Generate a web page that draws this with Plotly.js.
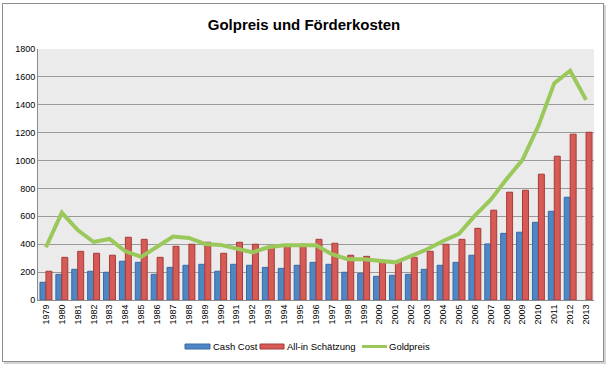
<!DOCTYPE html>
<html>
<head>
<meta charset="utf-8">
<script src="https://cdn.plot.ly/plotly-3.0.1.min.js"></script>
<style>
html,body{margin:0;padding:0;background:#fff;}
#wrap{position:relative;width:608px;height:366px;}
#chart{width:608px;height:366px;}
#frame{position:absolute;left:2px;top:3px;width:600px;height:357px;border:1px solid #8e8e8e;box-shadow:2px 2px 0 #d4d4d4;pointer-events:none;}
</style>
</head>
<body>
<div id="wrap"><div id="chart"></div><div id="frame"></div></div>
<script>
const years = ["1979","1980","1981","1982","1983","1984","1985","1986","1987","1988","1989","1990","1991","1992","1993","1994","1995","1996","1997","1998","1999","2000","2001","2002","2003","2004","2005","2006","2007","2008","2009","2010","2011","2012","2013"];
const cashCost = [127,184,220,206,199,278,270,184,234,249,256,206,256,249,234,227,249,270,256,199,191,170,177,184,220,249,270,321,402,478,486,557,636,737,null];
const allIn = [206,306,349,335,321,450,435,306,385,400,414,335,414,400,385,390,400,435,407,321,313,278,278,306,349,400,435,514,644,773,787,902,1031,1189,1203];
const goldpreis = [378,627,502,416,438,349,309,383,455,445,402,395,371,342,378,392,392,392,328,292,292,278,270,316,364,423,474,605,720,868,1005,1249,1555,1644,1435];
const yTicks = [0,200,400,600,800,1000,1200,1400,1600,1800];
const seriesNames = ["Cash Cost","All-in Schätzung","Goldpreis"];
const seriesColors = ["#4F86C6","#D65B57","#9BC85A"];
const seriesLines = ["#386AA3","#A43C39","#9BC85A"];

const font = "Liberation Sans, Arial, sans-serif";
const L = 38, R = 14, T = 49, B = 66, W = 608, H = 366;
const pw = W - L - R, ph = H - T - B;
const px = v => (v - L) / pw;
const py = v => (H - B - v) / ph;

const data = [
  {type:"bar", name:seriesNames[0], x:years, y:cashCost,
   marker:{color:seriesColors[0], line:{color:seriesLines[0], width:1}}},
  {type:"bar", name:seriesNames[1], x:years, y:allIn,
   marker:{color:seriesColors[1], line:{color:seriesLines[1], width:1}}},
  {type:"scatter", mode:"lines", name:seriesNames[2], x:years, y:goldpreis,
   line:{color:seriesColors[2], width:4}}
];

// custom legend (swatches + labels)
const legY = 346.5;
const legItems = [
  {sx:185, ex:210, tx:211},
  {sx:260, ex:284, tx:285},
  {sx:362, ex:387, tx:387}
];
const shapes = [], annotations = [];
legItems.forEach((it, i) => {
  if (i < 2) {
    shapes.push({type:"rect", xref:"paper", yref:"paper", x0:px(it.sx), x1:px(it.ex),
      y0:py(legY+2.5), y1:py(legY-2.5), fillcolor:seriesColors[i],
      line:{color:seriesLines[i], width:1}});
  } else {
    shapes.push({type:"line", xref:"paper", yref:"paper", x0:px(it.sx), x1:px(it.ex),
      y0:py(legY), y1:py(legY), line:{color:seriesColors[i], width:3}});
  }
  annotations.push({xref:"paper", yref:"paper", x:px(it.tx), y:py(legY), xanchor:"left",
    yanchor:"middle", text:seriesNames[i], showarrow:false, font:{family:font, size:9.5, color:"#000"}});
});

const layout = {
  width:W, height:H,
  margin:{l:L, r:R, t:T, b:B},
  paper_bgcolor:"#ffffff", plot_bgcolor:"#EBEBEB",
  font:{family:font, size:9, color:"#000"},
  title:{text:"<b>Golpreis und Förderkosten</b>", font:{family:font, size:15, color:"#000"},
         x:0.5, xref:"container", y:1-25/366, yref:"container", yanchor:"middle"},
  barmode:"group", bargap:0.25, bargroupgap:0,
  showlegend:false,
  shapes:shapes, annotations:annotations,
  xaxis:{type:"category", tickangle:-90, tickfont:{size:9}, showline:true, linecolor:"#8a8a8a",
         linewidth:1, showgrid:false, ticks:"", automargin:false},
  yaxis:{range:[0,1800], tickvals:yTicks, ticktext:yTicks.map(String), showgrid:true,
         gridcolor:"#9a9a9a", gridwidth:1, showline:true, linecolor:"#8a8a8a", zeroline:false,
         tickfont:{size:9}, ticks:"", automargin:false, fixedrange:true}
};
Plotly.newPlot("chart", data, layout, {displayModeBar:false, staticPlot:true});
</script>
</body>
</html>
